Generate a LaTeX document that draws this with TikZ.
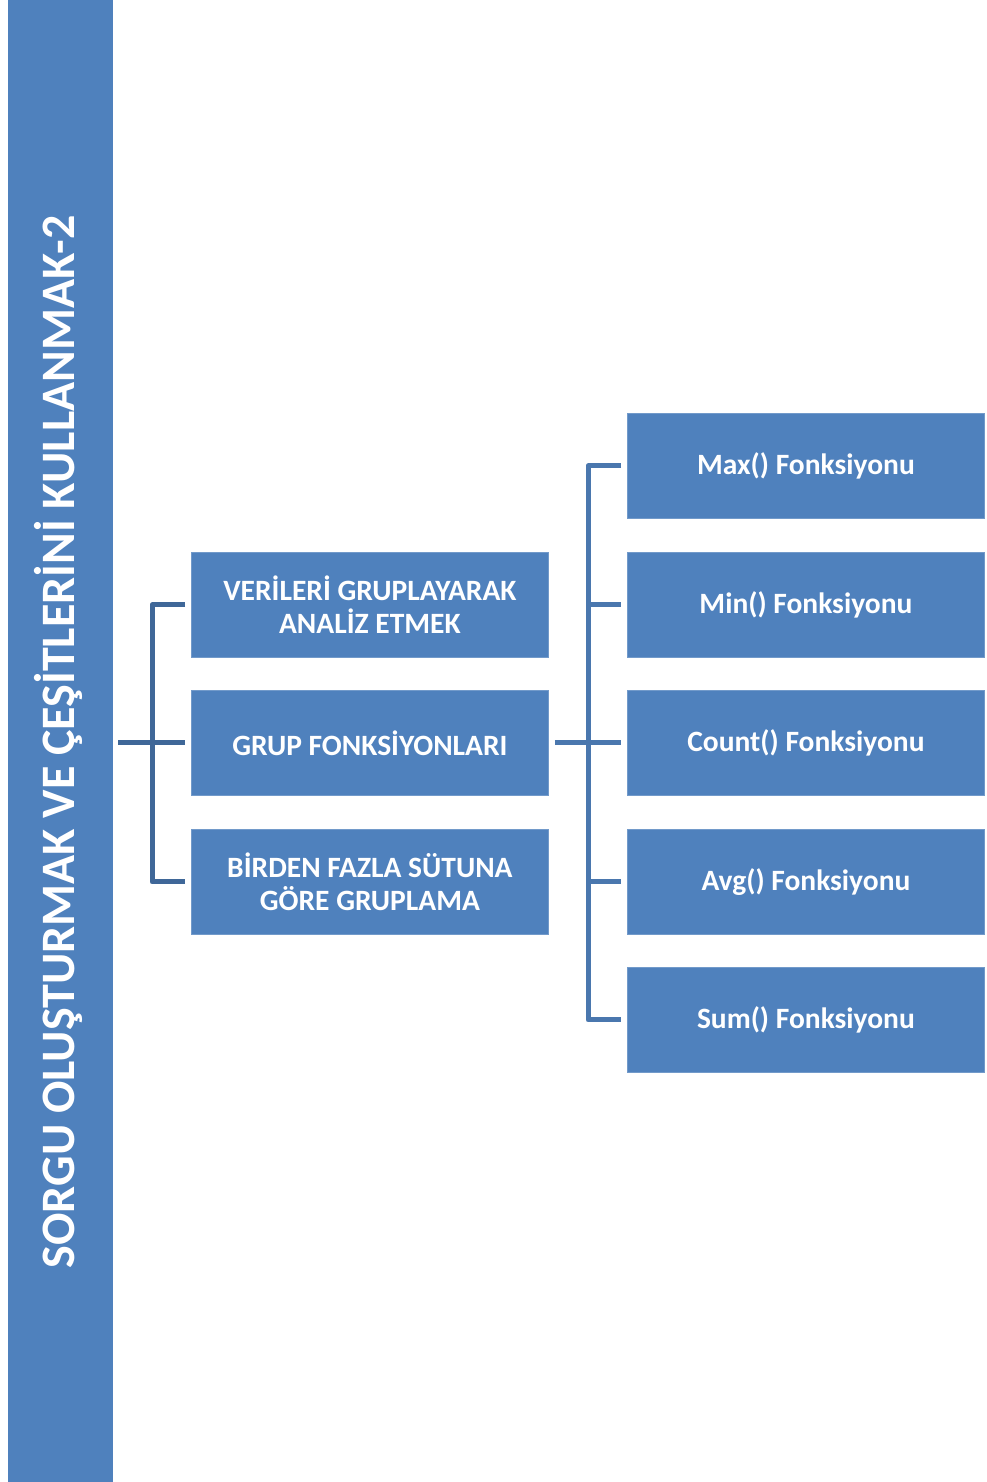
\documentclass[tikz,border=0pt]{standalone}
\usepackage{fontspec}
\setmainfont{Carlito}
\definecolor{boxblue}{HTML}{4F81BD}
\definecolor{lineL}{HTML}{3F6798}
\definecolor{lineR}{HTML}{4A77AE}
\begin{document}
\begin{tikzpicture}[x=1pt,y=-1pt,
  box/.style={fill=boxblue,draw=boxblue!80!white,line width=0.8pt,minimum width=357pt,minimum height=105pt,inner sep=0pt,
    text=white,font=\bfseries\fontsize{29.5}{33}\selectfont,align=center,anchor=north west},
  conn/.style={line width=5pt,line cap=butt,line join=round}]
\useasboundingbox (0,0) rectangle (986,1482);
\fill[white] (0,0) rectangle (986,1482);
\node[fill=boxblue,minimum width=105pt,minimum height=1482pt,inner sep=0pt,anchor=north west] (main) at (8,0) {};
\node[rotate=90,text=white,font=\bfseries\fontsize{48}{56}\selectfont] (title) at (58,742) {SORGU OLUŞTURMAK VE ÇEŞİTLERİNİ KULLANMAK-2};
\node[box] (m1) at (191,552) {VERİLERİ GRUPLAYARAK\\ANALİZ ETMEK};
\node[box] (m2) at (191,690) {GRUP FONKSİYONLARI};
\node[box] (m3) at (191,829) {BİRDEN FAZLA SÜTUNA\\GÖRE GRUPLAMA};
\node[box] (r1) at (627,413) {Max() Fonksiyonu};
\node[box] (r2) at (627,552) {Min() Fonksiyonu};
\node[box] (r3) at (627,690) {Count() Fonksiyonu};
\node[box] (r4) at (627,829) {Avg() Fonksiyonu};
\node[box] (r5) at (627,967) {Sum() Fonksiyonu};
% left bracket
\coordinate (lb) at (152,0);
\draw[conn,lineL] ([xshift=-6pt]m1.west) -| (lb |- m1.west) |- ([xshift=-6pt]m3.west);
\draw[conn,lineL] ([xshift=5pt]main.east |- m2.west) -- ([xshift=-6pt]m2.west);
% right bracket
\coordinate (rb) at (588,0);
\draw[conn,lineR] ([xshift=-6pt]r1.west) -| (rb |- r1.west) |- ([xshift=-6pt]r5.west);
\foreach \n in {r2,r3,r4} \draw[conn,lineR] (rb |- \n.west) -- ([xshift=-6pt]\n.west);
\draw[conn,lineR] ([xshift=6pt]m2.east) -- (rb |- m2.east);
\end{tikzpicture}
\end{document}
